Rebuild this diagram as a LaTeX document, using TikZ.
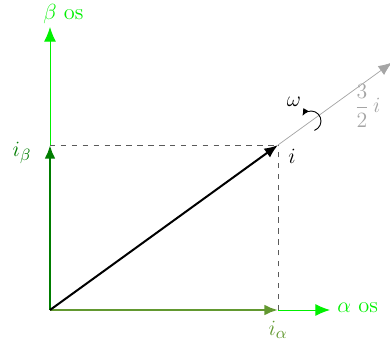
\documentclass[tikz,border=0pt]{standalone}
\usetikzlibrary{arrows.meta}
\definecolor{axisgreen}{RGB}{0,240,0}
\definecolor{betagreen}{RGB}{0,125,0}
\definecolor{alphagreen}{RGB}{98,152,48}
\definecolor{lgray}{RGB}{165,165,165}
\definecolor{dgray}{RGB}{90,90,90}
\tikzset{
  axis/.style={axisgreen, line width=0.5pt, -{Latex[length=8pt,width=6.5pt]}},
  comp/.style={line width=1.6pt, -{Latex[length=7.5pt,width=6pt]}},
  mainvec/.style={black, line width=1.1pt, -{Latex[length=7.5pt,width=6pt]}},
  guide/.style={dgray, dashed, line width=0.5pt},
  scaled/.style={lgray, line width=0.4pt, -{Latex[length=7.5pt,width=6pt]}},
  lbl/.style={inner sep=0, font=\fontsize{12.3}{15}\selectfont}
}
\begin{document}
\begin{tikzpicture}[x=0.55pt,y=-0.55pt]
\useasboundingbox (0,0) rectangle (390,350);
\coordinate (O) at (50,310);
\coordinate (Aend) at (330,310);
\coordinate (Bend) at (50,27);
\coordinate (I) at (278,145);
\coordinate (Ia) at (278,310);
\coordinate (Ib) at (50,145);
\coordinate (I32) at (392,62.5);
% guides
\draw[guide] (Ib) -- (I);
\draw[guide] (Ia) -- (I);
% axes
\draw[axis] (Ia) -- (Aend);
\draw[axis] (Ib) -- (Bend);
% scaled vector
\draw[scaled] (I) -- (I32);
% components
\draw[comp, alphagreen] (O) -- (Ia);
\draw[comp, betagreen] (O) -- (Ib);
% main vector
\draw[mainvec] (O) -- (I);
% omega arrow
\draw[black, line width=0.5pt, -{Latex[length=4pt,width=3.5pt]}] (311,121) ++(70:10) arc[start angle=70, end angle=-150, radius=10];
% labels
\node[lbl, axisgreen, anchor=west] (la) at (337,308) {$\alpha$ os};
\node[lbl, axisgreen, anchor=west] (lb) at (43,14) {$\beta$ os};
\node[lbl, betagreen] (lib) at (22,153) {$i_\beta$};
\node[lbl, alphagreen] (lia) at (278,330) {$i_\alpha$};
\node[lbl, black] (li) at (292,156) {$i$};
\node[lbl, black] (lw) at (294,102) {$\omega$};
\node[lbl, lgray, anchor=west] (l32) at (354,106) {$\displaystyle\frac{3}{2}\,i$};
\end{tikzpicture}
\end{document}
